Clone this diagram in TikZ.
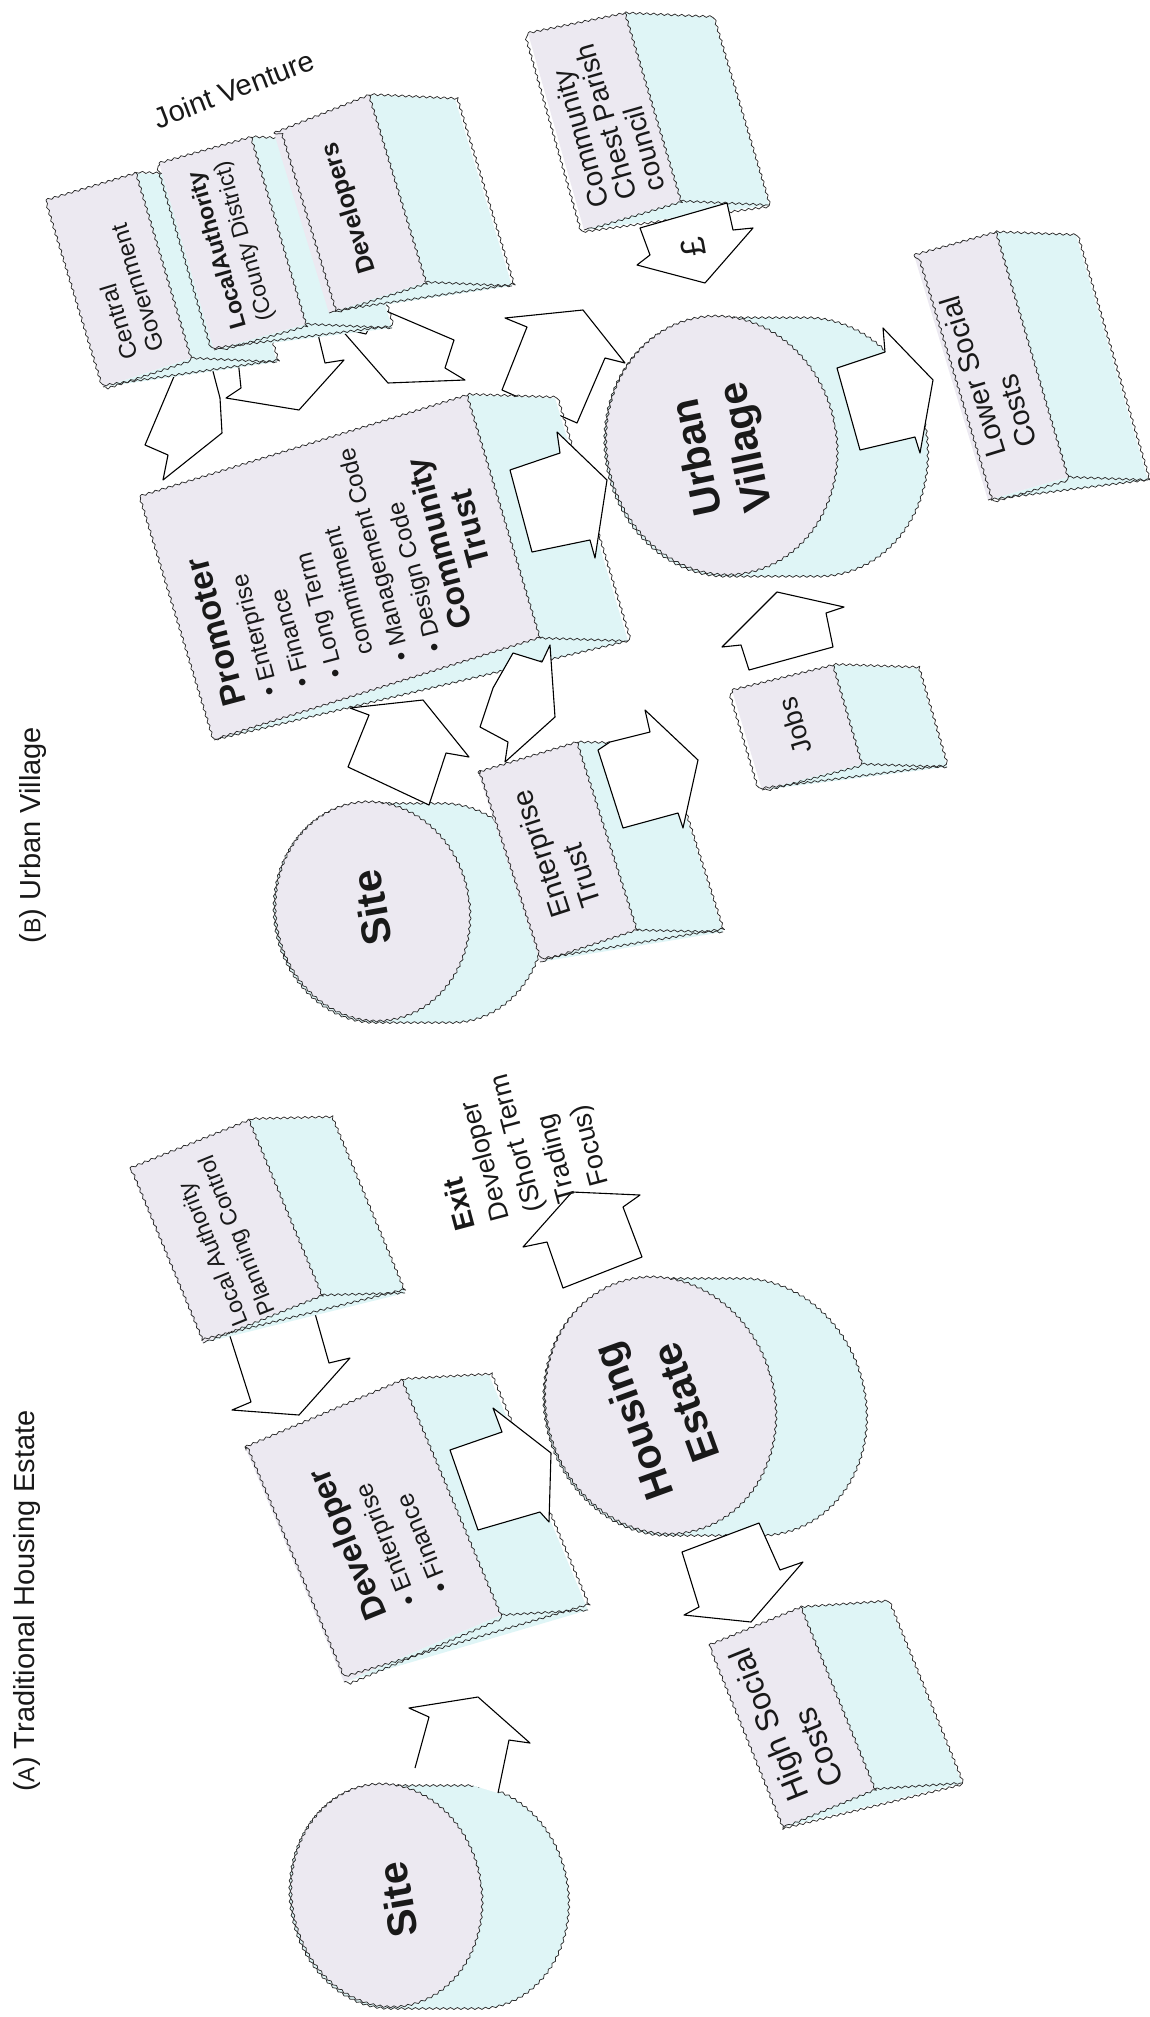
\documentclass[tikz,border=0pt]{standalone}
\usepackage{fontspec}
\setmainfont{Liberation Sans}
\usetikzlibrary{calc,decorations.pathmorphing}
\definecolor{lav}{RGB}{236,233,241}
\definecolor{cy}{RGB}{223,245,246}
\definecolor{ink}{RGB}{45,45,45}
\newcommand\fs[1]{\fontsize{#1}{#1}\selectfont}
\newcommand\fsl[2]{\fontsize{#1}{#2}\selectfont}
\tikzset{
 wavy/.style={draw=ink, line width=0.75pt, line join=round, decorate, decoration={snake, amplitude=1pt, segment length=7pt}},
 arr/.style={fill=white, draw=black, line width=1.1pt, line join=round},
 lbl/.style={inner sep=0pt, align=left, text=black!90},
 lblc/.style={inner sep=0pt, align=center, text=black!90},
}
% box: name, A, B, C, D (front face), depth vector
\newcommand\cube[6]{%
 \coordinate (#1A) at #2; \coordinate (#1B) at #3; \coordinate (#1C) at #4; \coordinate (#1D) at #5;
 \coordinate (#1E) at ($(#1B)+#6$); \coordinate (#1F) at ($(#1C)+#6$);
 \path[fill=cy] (#1B)--(#1E)--(#1F)--(#1D)--(#1C)--cycle;
 \path[fill=lav] (#1A)--(#1B)--(#1C)--(#1D)--cycle;
 \draw[wavy] (#1A)--(#1B)--(#1E)--(#1F)--(#1D)--cycle;
 \draw[wavy] (#1B)--(#1C)--(#1D);
 \draw[wavy] (#1C)--(#1F);
}
% cylinder: name, cx, cy, a, b, tilt, depth
\newcommand\cyl[7]{%
 \pgfmathsetmacro\cylt{atan2(#5*cos(#6),#4*sin(#6))}%
 \pgfmathsetmacro\cylu{\cylt+180}%
 \pgfmathsetmacro\cylv{\cylt+360}%
 \coordinate (#1) at (#2,#3);
 \begin{scope}[shift={(#2,#3)},rotate=#6]
  \path[fill=cy,wavy] (\cylt:#4pt and #5pt) arc[start angle=\cylt,end angle=\cylu,x radius=#4pt,y radius=#5pt] -- ++(-#6:#7pt) arc[start angle=\cylu,end angle=\cylv,x radius=#4pt,y radius=#5pt] -- cycle;
  \path[fill=lav,wavy] (0,0) ellipse[x radius=#4pt,y radius=#5pt];
 \end{scope}}

\begin{document}
\begin{tikzpicture}[x=1pt,y=-1pt]
\fill[white] (0,0) rectangle (1149,2017);
\useasboundingbox (0,0) rectangle (1149,2017);

% ---------- arrows lying under boxes ----------
\draw[arr] (178,367) -- (145,445) -- (168,455) -- (163,480) -- (222,433) -- (220,398) -- (210,360) -- cycle;
\draw[arr] (236,340) -- (241,388) -- (226,398) -- (299,410) -- (344,360) -- (325,363) -- (317,330);
\draw[arr] (340,328) -- (388,383) -- (465,380) -- (445,368) -- (454,340) -- (379,308) -- (366,334) -- cycle;
\draw[arr] (505,318) -- (527,327) -- (502,390) -- (577,423) -- (605,358) -- (625,363) -- (583,310) -- cycle;
\draw[arr] (228,1330) -- (251,1402) -- (232,1410) -- (299,1415) -- (350,1358) -- (329,1363) -- (314,1310);

% ---------- (B) boxes ----------
\cube{cg}{(46,200)}{(136,173)}{(191,358)}{(103,387)}{(86,4)}
\cube{lab}{(159,163)}{(251,137)}{(306,324)}{(214,350)}{(86,4)}
\cube{dvs}{(274,133)}{(369,95)}{(426,282)}{(329,313)}{(86,4)}
\cube{cc}{(528,33)}{(625,13)}{(681,201)}{(584,230)}{(88,4)}
\cube{pr}{(140,496)}{(467,395)}{(540,638)}{(214,740)}{(88,3)}
\cyl{siteB}{373}{913}{97}{110}{10}{76}
\cube{et}{(478,772)}{(577,742)}{(637,930)}{(540,962)}{(86,2)}
\cube{jb}{(732,690)}{(833,665)}{(862,764)}{(762,790)}{(85,3)}
\cyl{uv}{722}{447}{115}{130}{12}{92}
\cube{ls}{(914,255)}{(996,232)}{(1068,477)}{(988,500)}{(80,3)}

% ---------- (A) boxes ----------
\cube{laa}{(130,1168)}{(249,1120)}{(322,1295)}{(203,1343)}{(83,-2)}
\cube{dva}{(245,1447)}{(402,1380)}{(501,1615)}{(344,1682)}{(87,-5)}
\cyl{siteA}{387}{1897}{95}{112}{10}{88}
\cyl{he}{661}{1407}{114}{130}{18}{92}
\cube{hs}{(709,1645)}{(801,1607)}{(875,1789)}{(783,1827)}{(87,-6)}

% ---------- arrows on top ----------
\draw[arr] (510,470) -- (560,453) -- (557,432) -- (607,480) -- (595,558) -- (590,540) -- (532,552) -- cycle;
\draw[arr] (350,708) -- (369,715) -- (348,767) -- (429,805) -- (446,753) -- (469,757) -- (423,700) -- cycle;
\draw[arr] (505,762) -- (508,742) -- (480,727) -- (493,688) -- (513,653) -- (542,662) -- (550,645) -- (555,717) -- cycle;
\draw[arr] (598,750) -- (623,828) -- (678,813) -- (683,828) -- (698,760) -- (645,710) -- (650,732) -- (610,742) -- cycle;
\draw[arr] (749,670) -- (741,645) -- (722,647) -- (777,592) -- (844,607) -- (826,613) -- (833,647) -- cycle;
\draw[arr] (837,368) -- (885,352) -- (883,328) -- (933,380) -- (920,453) -- (915,437) -- (860,450) -- cycle;
\draw[arr] (727,203) -- (640,228) -- (650,255) -- (637,265) -- (705,283) -- (753,228) -- (733,230) -- cycle;
\draw[arr] (415,1768) -- (429,1717) -- (409,1708) -- (478,1697) -- (530,1743) -- (509,1740) -- (498,1793);
\draw[arr] (450,1450) -- (502,1432) -- (493,1408) -- (551,1453) -- (549,1522) -- (540,1512) -- (478,1530) -- cycle;
\draw[arr] (563,1288) -- (547,1242) -- (523,1247) -- (572,1192) -- (640,1195) -- (623,1207) -- (642,1257) -- cycle;
\draw[arr] (682,1552) -- (699,1607) -- (684,1615) -- (751,1622) -- (803,1562) -- (780,1570) -- (759,1523) -- cycle;

% ---------- texts ----------
\node[lbl, rotate=90, font=\fs{29}] (titleA) at (27,1601) {({\fs{23}A}) Traditional Housing Estate};
\node[lbl, rotate=90, font=\fs{29}] (titleB) at (33,835) {({\fs{23}B}) Urban Village};
\node[lbl, rotate=21, font=\fs{29}] (jv) at (234,89) {Joint Venture};

\node[lbl, rotate=107, font=\fsl{24}{28}] (tcg) at (124,292) {Central\\Government};
\node[lbl, rotate=106, font=\fsl{23}{28}] (tlab) at (232,245) {\textbf{LocalAuthority}\\(County District)};
\node[lbl, rotate=107, font=\bfseries\fs{25}] (tdvs) at (350,208) {Developers};
\node[lbl, rotate=106, font=\fsl{28}{29}] (tcc) at (606,122) {Community\\Chest Parish\\council};
\node[lbl, rotate=105, font=\fsl{24}{34}] (tpr) at (338,564) {{\bfseries\fsl{34}{34}Promoter}\\• Enterprise\\• Finance\\• Long Term\\\hphantom{•~}commitment\\• Management Code\\• Design Code\\\hphantom{•~}{\bfseries\fsl{32}{34}Community}\\\hphantom{•~}\hspace{55pt}{\bfseries\fsl{32}{34}Trust}};
\node[lbl, rotate=108, font=\fsl{29}{32}] (tet) at (556,849) {Enterprise\\Trust};
\node[lbl, rotate=107, font=\fs{27}] (tjb) at (795,726) {Jobs};
\node[lbl, rotate=107, font=\fsl{29}{32}] (tls) at (988,372) {Lower Social\\Costs};
\node[lblc, rotate=100, font=\fs{34}] (tpound) at (693,247) {£};

\node[lblc, rotate=100, font=\bfseries\fs{41}] (tsb) at (372,908) {Site};
\node[lblc, rotate=102, font=\bfseries\fsl{41}{50}] (tuv) at (724,452) {Urban\\Village};

\node[lbl, rotate=112, font=\fsl{23}{29}] (tlaa) at (225,1240) {Local Authority\\Planning Control};
\node[lbl, rotate=112, font=\fsl{25}{34}] (tdva) at (378,1532) {{\bfseries\fsl{33}{34}Developer}\\• Enterprise\\• Finance};
\node[lbl, rotate=105, font=\fsl{27}{35}, anchor=north west] (texit) at (455,1233) {{\bfseries\fsl{29}{35}Exit}\\Developer\\(Short Term\\Trading\\\hspace{8pt}Focus)};
\node[lblc, rotate=100, font=\bfseries\fs{41}] (tsa) at (398,1900) {Site};
\node[lblc, rotate=110, font=\bfseries\fsl{41}{56}] (the) at (659,1412) {Housing\\Estate};
\node[lbl, rotate=112, font=\fsl{32}{38}] (ths) at (786,1718) {High Social\\Costs};
\end{tikzpicture}
\end{document}
